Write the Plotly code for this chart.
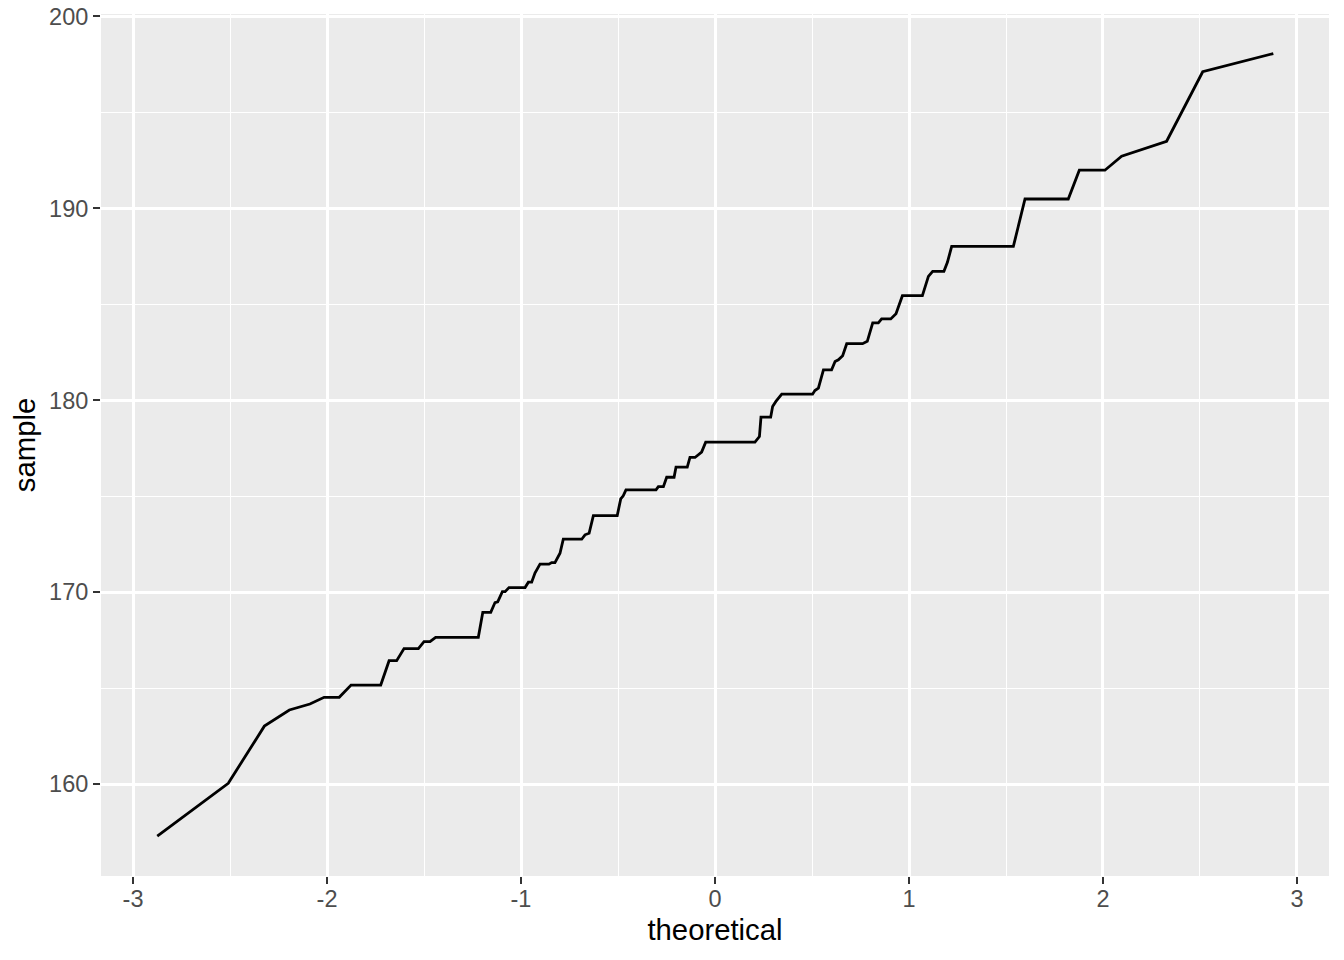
import plotly.graph_objects as go

# vertices of the QQ line
theoretical = [
    -2.875, -2.509, -2.323, -2.194, -2.088, -2.015, -1.937, -1.876, -1.723, -1.680,
    -1.641, -1.603, -1.529, -1.500, -1.469, -1.440, -1.220, -1.197, -1.156, -1.134,
    -1.120, -1.096, -1.082, -1.062, -0.979, -0.962, -0.945, -0.928, -0.902, -0.856,
    -0.842, -0.825, -0.799, -0.782, -0.687, -0.670, -0.649, -0.627, -0.504, -0.486,
    -0.473, -0.459, -0.304, -0.292, -0.266, -0.249, -0.211, -0.201, -0.143, -0.129,
    -0.103, -0.069, -0.048, 0.206, 0.229, 0.237, 0.287, 0.297, 0.314, 0.344,
    0.503, 0.515, 0.533, 0.559, 0.601, 0.619, 0.636, 0.658, 0.679, 0.761,
    0.785, 0.813, 0.842, 0.859, 0.906, 0.933, 0.966, 1.069, 1.100, 1.122,
    1.180, 1.198, 1.220, 1.538, 1.598, 1.821, 1.878, 2.010, 2.096, 2.328,
    2.514, 2.878,
]
sample = [
    157.29, 160.04, 163.02, 163.86, 164.17, 164.52, 164.52, 165.16, 165.16, 166.43,
    166.43, 167.06, 167.06, 167.42, 167.42, 167.65, 167.65, 168.95, 168.95, 169.46,
    169.50, 170.03, 170.03, 170.24, 170.24, 170.52, 170.52, 171.00, 171.46, 171.46,
    171.54, 171.54, 172.03, 172.76, 172.76, 172.99, 173.07, 173.99, 173.99, 174.86,
    175.02, 175.33, 175.33, 175.50, 175.50, 175.99, 175.99, 176.52, 176.52, 177.02,
    177.02, 177.30, 177.82, 177.82, 178.11, 179.12, 179.12, 179.68, 179.94, 180.32,
    180.32, 180.51, 180.63, 181.59, 181.59, 182.02, 182.11, 182.32, 182.95, 182.95,
    183.07, 184.03, 184.03, 184.24, 184.24, 184.51, 185.45, 185.45, 186.46, 186.72,
    186.72, 187.19, 188.02, 188.02, 190.49, 190.49, 191.99, 191.99, 192.72, 193.50,
    197.12, 198.07,
]

x_ticks = [-3, -2, -1, 0, 1, 2, 3]
y_ticks = [160, 170, 180, 190, 200]

FONT = "Liberation Sans, Arial, sans-serif"

fig = go.Figure()
fig.add_trace(go.Scatter(
    x=theoretical, y=sample, mode="lines",
    line=dict(color="black", width=2.8),
    showlegend=False,
))

axis_common = dict(
    automargin=False,
    showgrid=True, gridcolor="white", gridwidth=2.6,
    zeroline=False, showline=False,
    ticks="outside", ticklen=7, tickwidth=2.4, tickcolor="#333333",
    tickfont=dict(family=FONT, size=23.5, color="#4D4D4D"),
    ticklabeloverflow="allow",
    title_font=dict(family=FONT, size=29.3, color="black"),
)

fig.update_xaxes(
    **axis_common,
    range=[-3.165, 3.165],
    tickvals=x_ticks, ticktext=[str(v) for v in x_ticks],
    minor=dict(dtick=0.5, tick0=0, showgrid=True, gridcolor="white", gridwidth=1.3, ticks=""),
    ticklabelstandoff=-5,
    title_text="theoretical", title_standoff=8,
)
fig.update_yaxes(
    **axis_common,
    range=[155.21, 200.13],
    tickvals=y_ticks, ticktext=[str(v) for v in y_ticks],
    minor=dict(dtick=5, tick0=0, showgrid=True, gridcolor="white", gridwidth=1.3, ticks=""),
    title_text="sample", title_standoff=8,
)

# the page body adds an 8px offset, so margins are trimmed by that
fig.update_layout(
    width=1344, height=960,
    margin=dict(l=93, r=23, t=6, b=92),
    paper_bgcolor="white", plot_bgcolor="#EBEBEB",
)

fig.write_html("out.html")
